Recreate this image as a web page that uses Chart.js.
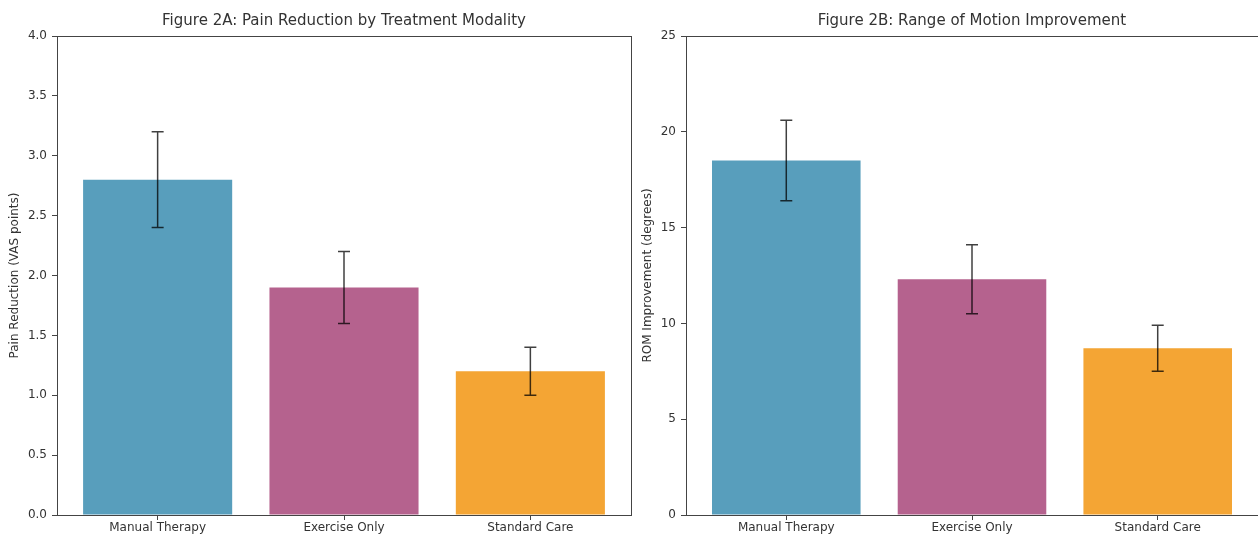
<!DOCTYPE html>
<html>
<head>
<meta charset="utf-8">
<script src="https://cdn.jsdelivr.net/npm/chart.js@4.4.1/dist/chart.umd.min.js"></script>
<style>
  html, body { margin: 0; padding: 0; background: #ffffff; }
  body { width: 1258px; height: 534px; position: relative; overflow: hidden; }
  .box { position: absolute; top: 0; height: 534px; }
  #boxA { left: 0; width: 640px; }
  #boxB { left: 634px; width: 624px; }
</style>
</head>
<body>
<div class="box" id="boxA"><canvas id="chartA"></canvas></div>
<div class="box" id="boxB"><canvas id="chartB"></canvas></div>
<script>
// ---- data ----
const categories = ["Manual Therapy", "Exercise Only", "Standard Care"];
const painValues = [2.8, 1.9, 1.2];
const painErrors = [0.4, 0.3, 0.2];
const romValues = [18.5, 12.3, 8.7];
const romErrors = [2.1, 1.8, 1.2];
const painTicks = [0, 0.5, 1.0, 1.5, 2.0, 2.5, 3.0, 3.5, 4.0];
const romTicks = [0, 5, 10, 15, 20, 25];
const titleA = "Figure 2A: Pain Reduction by Treatment Modality";
const titleB = "Figure 2B: Range of Motion Improvement";
const ylabelA = "Pain Reduction (VAS points)";
const ylabelB = "ROM Improvement (degrees)";
const barColors = ["rgba(46,134,171,0.8)", "rgba(162,59,114,0.8)", "rgba(241,143,1,0.8)"];

const FONT = "'DejaVu Sans', sans-serif";
const TEXT = "#333333";
const SPINE = "#444444";

const framePlugin = {
  id: 'frame',
  afterDatasetsDraw(chart, args, opts) {
    const ctx = chart.ctx;
    const x = chart.scales.x, y = chart.scales.y;
    const ds = chart.data.datasets[0];
    const errs = opts.errors;
    ctx.save();
    // error bars
    ctx.strokeStyle = 'rgba(0,0,0,0.75)';
    ctx.lineWidth = 1.5;
    ds.data.forEach((pt, i) => {
      const px = x.getPixelForValue(pt.x);
      const top = y.getPixelForValue(pt.y + errs[i]);
      const bot = y.getPixelForValue(pt.y - errs[i]);
      ctx.beginPath();
      ctx.moveTo(px, top); ctx.lineTo(px, bot);
      ctx.moveTo(px - 6, top); ctx.lineTo(px + 6, top);
      ctx.moveTo(px - 6, bot); ctx.lineTo(px + 6, bot);
      ctx.stroke();
    });
    // frame
    const a = chart.chartArea;
    ctx.strokeStyle = SPINE;
    ctx.lineWidth = 1;
    ctx.strokeRect(Math.round(a.left) + 0.5, Math.round(a.top) + 0.5,
                   Math.round(a.right - a.left), Math.round(a.bottom - a.top));
    // title
    ctx.fillStyle = TEXT;
    ctx.font = "15px " + FONT;
    ctx.textAlign = 'center';
    ctx.textBaseline = 'middle';
    ctx.fillText(opts.title, (a.left + a.right) / 2, 21);
    ctx.restore();
  }
};

function makeChart(id, values, errors, ticks, ymax, title, ylabel, yWidth, padRight, decimals, titlePad) {
  const data = values.map((v, i) => ({ x: i, y: v }));
  return new Chart(document.getElementById(id), {
    type: 'bar',
    data: {
      datasets: [{
        data: data,
        backgroundColor: barColors,
        borderWidth: 0,
        barPercentage: 0.8,
        categoryPercentage: 1.0
      }]
    },
    options: {
      responsive: true,
      maintainAspectRatio: false,
      animation: false,
      devicePixelRatio: 1,
      layout: { padding: { left: 0, right: padRight, top: 36, bottom: 0 } },
      plugins: {
        legend: { display: false },
        tooltip: { enabled: false },
        title: { display: false },
        frame: { errors: errors, title: title }
      },
      scales: {
        x: {
          type: 'linear',
          min: -0.54,
          max: 2.54,
          offset: false,
          afterBuildTicks: (s) => { s.ticks = categories.map((c, i) => ({ value: i })); },
          afterFit: (s) => { s.height = 19; },
          ticks: {
            autoSkip: false,
            maxRotation: 0,
            padding: 1,
            color: TEXT,
            font: { family: FONT, size: 12 },
            callback: (v) => categories[v]
          },
          grid: { offset: false, drawOnChartArea: false, drawTicks: true, tickLength: 5, color: SPINE },
          border: { display: true, color: SPINE }
        },
        y: {
          type: 'linear',
          min: 0,
          max: ymax,
          afterBuildTicks: (s) => { s.ticks = ticks.map(v => ({ value: v })); },
          afterFit: (s) => { s.width = yWidth; },
          ticks: {
            autoSkip: false,
            padding: 5,
            color: TEXT,
            font: { family: FONT, size: 12 },
            callback: (v) => Number(v).toFixed(decimals)
          },
          grid: { drawOnChartArea: false, drawTicks: true, tickLength: 5, color: SPINE },
          border: { display: true, color: SPINE },
          title: {
            display: true,
            text: ylabel,
            color: TEXT,
            font: { family: FONT, size: 12 },
            padding: { top: titlePad, bottom: 0 }
          }
        }
      }
    },
    plugins: [framePlugin]
  });
}

makeChart('chartA', painValues, painErrors, painTicks, 4.0, titleA, ylabelA, 57, 9, 1, 8);
makeChart('chartB', romValues, romErrors, romTicks, 25, titleB, ylabelB, 52, 0, 0, 7);
</script>
</body>
</html>
